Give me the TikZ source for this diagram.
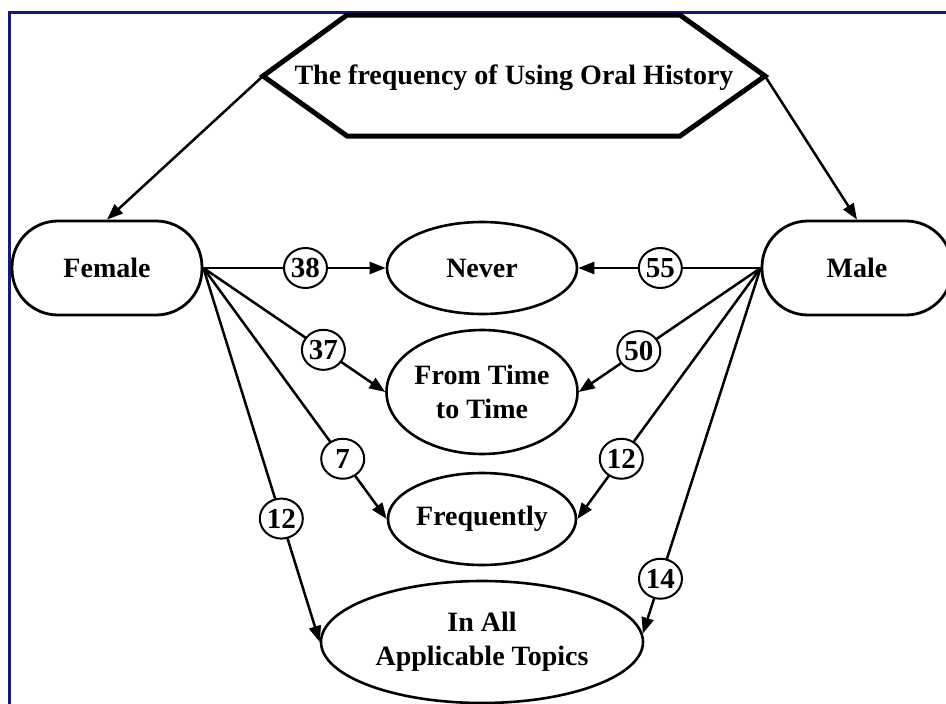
\documentclass[tikz,border=0pt]{standalone}
\usepackage{fontspec}
\setmainfont{Liberation Serif}
\usetikzlibrary{shapes.geometric,arrows.meta}
\definecolor{framenavy}{RGB}{22,24,122}
\tikzset{
  txt/.style={font=\fontsize{28}{34}\selectfont\bfseries, align=center},
  terminal/.style={txt, draw, line width=2.8pt, rounded corners=46pt,
    minimum width=190pt, minimum height=94pt, inner sep=0pt},
  state/.style={txt, draw, ellipse, line width=2.6pt, inner sep=0pt},
  count/.style={font=\fontsize{29}{30}\selectfont\bfseries, draw, ellipse,
    fill=white, line width=2pt, minimum width=43pt, minimum height=40pt,
    inner sep=0pt},
  flow/.style={line width=2.5pt, -{Triangle[length=16pt,width=12pt]}},
  hexline/.style={line width=5pt, line join=miter},
}
\begin{document}
\begin{tikzpicture}[x=1pt, y=-1pt]
\useasboundingbox (0,0) rectangle (946,704);

% frame along the top and left edges
\draw[framenavy, line width=3pt] (9,704) -- (9,12) -- (946,12);

% title hexagon
\coordinate (hexL) at (263,76);
\coordinate (hexR) at (765,76);
\draw[hexline] (hexL) -- (347,15) -- (680,15) -- (hexR) -- (680,136) -- (347,136) -- cycle;
\node[txt] (title) at (514,78) {The frequency of Using Oral History};

% groups
\node[terminal] (female) at (107,268) {Female};
\node[terminal] (male) at (857,268) {Male};

% answers
\node[state, minimum width=190pt, minimum height=92pt] (never) at (482,268) {Never};
\node[state, minimum width=190pt, minimum height=124pt] (sometimes) at (482,392) {From Time\\to Time};
\node[state, minimum width=188pt, minimum height=92pt] (freq) at (482,519) {Frequently};
\node[state, minimum width=322pt, minimum height=122pt] (always) at (482,642) {In All\\Applicable Topics};

% title to groups
\draw[flow] (hexL) -- (female.north);
\draw[flow] (hexR) -- (male.north);

% female answers
\draw[flow] (female.east) -- node[count, pos=0.56] {38} (never.west);
\draw[flow] (female.east) -- node[count, pos=0.66] {37} (sometimes.west);
\draw[flow] (female.east) -- node[count, pos=0.76] {7} (freq.west);
\draw[flow] (female.east) -- node[count, pos=0.67] {12} (always.west);

% male answers
\draw[flow] (male.west) -- node[count, pos=0.55] {55} (never.east);
\draw[flow] (male.west) -- node[count, pos=0.67] {50} (sometimes.east);
\draw[flow] (male.west) -- node[count, pos=0.76] {12} (freq.east);
\draw[flow] (male.west) -- node[count, pos=0.85] {14} (always.3);
\end{tikzpicture}
\end{document}
